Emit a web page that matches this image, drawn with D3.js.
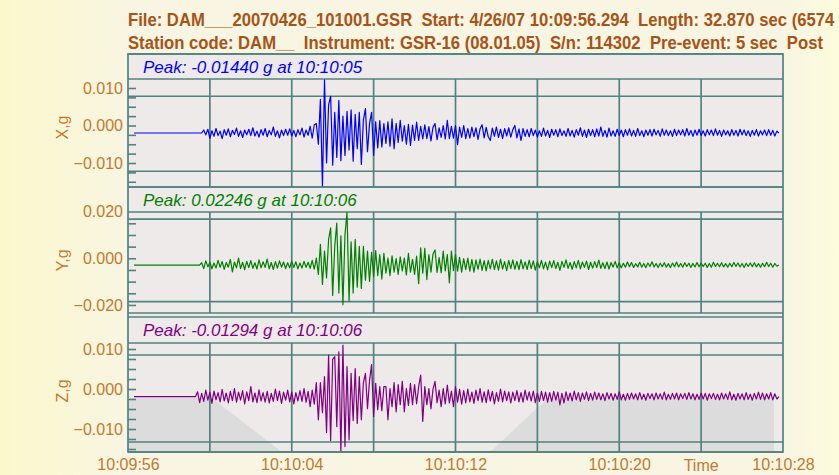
<!DOCTYPE html>
<html>
<head>
<meta charset="utf-8">
<script src="https://cdn.jsdelivr.net/npm/d3@7"></script>
<style>
  html, body { margin: 0; padding: 0; background: #fbf8da; overflow: hidden; }
  svg { display: block; font-family: "Liberation Sans", Arial, sans-serif; }
</style>
</head>
<body>
<div id="chart"></div>
<script>
// ---- Record data ----
var headerLines = [
  "File: DAM___20070426_101001.GSR  Start: 4/26/07 10:09:56.294  Length: 32.870 sec (6574",
  "Station code: DAM__  Instrument: GSR-16 (08.01.05)  S/n: 114302  Pre-event: 5 sec  Post"
];
var recordStart = 0.294;            // seconds after 10:09:56
var timeTicks = [0, 8, 16, 24, 32];  // labelled seconds
var timeGrid = [4, 8, 12, 16, 20, 24, 28];
var timeTitleAt = 28;
var channels = ["X,g", "Y,g", "Z,g"];
var peakLabels = ["Peak: -0.01440 g at 10:10:05", "Peak: 0.02246 g at 10:10:06", "Peak: -0.01294 g at 10:10:06"];
var baselines = [-0.0020, -0.0029, -0.0019];     // g, offset of the quiet trace
var yDomains = [[-0.0164, 0.0124], [-0.02345, 0.01985], [-0.01575, 0.0115]];
var yLabelTicks = [[-0.01, 0, 0.01], [-0.02, 0, 0.02], [-0.01, 0, 0.01]];
var yMinorStep = [0.0025, 0.005, 0.0025];
var yGrid = [[-0.0122, 0.0078], [-0.0186, 0.0168], [-0.01325, 0.0085]];
var onsets = [3.7, 3.6, 3.4];       // first sample of each array, s
var sampleStep = 0.1;               // s between values

// acceleration relative to baseline, milli-g
var xAccel = [
  0.8,-0.5,1.0,-1.4,0.6,-0.9,1.2,-0.7,0.5,-1.5, 0.9,-0.6,1.1,-1.0,0.7,-0.4,1.3,-0.9,0.6,-1.2,
  0.8,-0.5,1.0,-0.7,1.4,-0.8,0.5,-1.1,0.9,-0.6, 1.2,-1.0,0.7,-0.5,1.6,-0.9,0.6,-1.3,0.8,-0.7,
  1.0,-0.6,1.1,-0.8,0.7,-1.0,0.9,-0.5,1.3,-1.1, 0.8,-0.6,1.8,-1.4,2.2,
  2.5,-3.0,9.0,-14.4,14.2,-8.0,7.5,9.8,-8.6,5.5, -6.5,8.7,-7.4,4.5,-6.0,5.8,-4.5,6.2,-7.5,5.0,
  -4.2,5.5,-8.4,3.5,6.5,-5.0,2.5,5.5,-6.0,3.0, -4.0,3.3,-3.7,2.5,-2.8,3.0,-3.5,3.8,-4.2,2.6,
  -2.5,3.4,-2.2,2.0,-3.0,2.3,-3.3,2.1,-2.0,2.9, -2.0,1.8,-1.6,2.2,-1.5,1.7,-2.1,1.5,2.5,-1.8,
  1.4,-1.2,2.0,-1.6,3.4,-1.5,1.8,-1.4,2.0,-3.1, 1.6,-1.2,2.0,-1.5,
  1.2,-1.4,1.6,-1.0,1.4,-1.7,1.1,2.2,-1.3,1.5, -1.0,-2.0,1.3,-0.9,1.6,-1.2,1.0,-1.5,1.2,-0.8,
  1.4,-1.1,0.9,2.0,-1.3,1.1,-2.0,1.2,-0.9,
  0.9,-1.0,1.2,-0.7,0.8,-1.1,0.6,-0.9,1.3,-0.8, 0.7,-1.2,1.0,-0.6,0.9,-1.0,1.1,-0.7,0.6,-0.9,
  1.2,-0.8,0.7,-1.1,0.9,-0.6,1.4,-0.9,0.8,-1.2, 1.0,-0.7,0.9,-1.0,1.1,-0.8,1.6,-0.9,0.7,-1.1,
  1.3,-0.8,0.6,-0.9,1.0,-0.7,0.8,-1.0,0.9,-0.6, 1.1,-0.8,0.7,-0.9,1.2,-0.7,0.6,-1.0,0.8,-0.6,
  0.9,-0.8,1.0,-0.5,0.7,-0.9,1.1,-0.6,0.8,-0.7, 0.6,-0.9,1.0,-0.7,0.8,-0.5,0.9,-0.8,1.2,-0.6,
  0.7,-0.9,0.8,-0.6,1.0,-0.7,0.6,-0.8,0.9,-0.5, 0.8,-0.7,1.1,-0.6,0.7,-0.9,0.8,-0.5,0.6,-0.8,
  0.9,-0.6,0.7,-0.8,1.0,-0.5,0.8,-0.7,0.6,-0.9, 0.7,-0.6,0.9,-0.8,0.6,-0.5,0.8,-0.7,0.9,-0.6,
  0.7,-0.8,0.5,0
];
var yAccel = [
  1.0,-1.5,1.8,-0.8,1.2,-1.6,0.9,-1.3,2.0,-1.0, 1.5,-1.8,1.1,-0.9,2.4,-2.9,1.3,-1.2,3.0,-1.5,
  1.2,-2.0,1.6,-1.1,1.9,-1.4,1.0,-1.7,2.2,-1.2, 1.4,-1.0,2.6,-1.6,1.1,-1.9,1.5,-1.3,1.8,-0.9,
  1.3,-1.5,1.0,-1.2,1.7,-1.1,1.4,-1.6,0.9,-1.3, 1.6,-1.0,1.2,-1.4,2.0,-1.8,3.0,
  -4.0,8.9,-8.3,6.0,-5.5,11.0,16.0,-13.0,8.0,18.0, -12.0,12.5,-17.0,13.0,22.7,-15.4,10.0,-12.0,11.0,-9.5,
  8.0,-10.0,8.0,-6.5,6.0,-7.0,5.5,-5.0,6.2,-4.5, 4.5,-6.0,5.0,-3.5,3.0,-4.5,4.0,-3.0,2.8,-4.0,
  3.5,-2.5,3.0,-4.2,5.0,-3.0,2.5,-4.0,3.8,-8.0, 7.4,-3.5,7.2,-6.2,4.5,-3.0,4.7,6.5,-3.2,3.2,
  -3.3,6.0,-2.5,4.5,-7.6,6.0,-2.4,4.5,-2.6,3.3, -3.0,2.8,-2.0,3.0,-2.6,2.4,-3.0,2.2,-1.8,2.6,
  -2.3,1.9,-2.5,2.0,-1.6,2.5,-2.0,1.8,-2.2,2.6, -1.7,1.5,-2.4,2.0,-1.5,2.2,-1.8,1.6,-2.0,2.3,
  -1.6,1.4,-1.9,2.1,-1.5,1.8,-2.2,1.5,
  -1.2,2.0,-1.6,1.3,-2.1,1.7,-1.1,1.9,-1.5,1.2, -2.3,1.6,-1.0,2.2,-1.4,1.1,-1.8,1.5,-1.2,2.0,
  -1.6,1.3,-1.0,1.7,-1.9,1.2,-1.3,1.5,-1.1,2.1, -1.4,1.0,-1.5,1.3,-1.7,1.1,-0.9,1.6,-1.2,
  1.0,-1.2,0.8,-0.9,1.3,-0.7,1.1,-1.0,0.6,-0.8, 1.2,-0.9,0.7,-1.1,0.9,-0.6,1.4,-0.8,0.7,-1.0,
  0.8,-0.7,1.0,-0.9,0.6,-1.1,0.9,-0.7,1.3,-0.8, 0.7,-0.9,1.0,-0.6,0.8,-1.0,0.7,-0.8,1.1,-0.7,
  0.9,-0.6,0.8,-1.0,0.7,-0.9,1.2,-0.6,0.8,-0.7, 1.0,-0.8,0.6,-0.9,0.8,-0.7,1.1,-0.6,0.9,-0.8,
  0.7,-1.0,0.8,-0.6,0.9,-0.7,1.0,-0.8,0.6,-0.9, 0.8,-0.7,1.2,-0.6,0.8,-0.9,0.7,-0.5,0
];
var zAccel = [
  1.2,-1.5,0.8,-1.2,1.6,-0.9,1.1,-1.7,1.4,-0.8, 1.0,-1.3,1.8,-1.1,0.9,-1.6,1.3,-1.0,2.0,-1.4,
  1.1,-0.9,1.5,-1.8,1.2,-1.0,2.5,-1.3,0.9,-1.5, 1.7,-1.1,1.0,-1.4,1.3,-1.6,0.8,-1.2,1.9,-1.0,
  1.4,-1.7,1.1,-0.9,1.6,-1.3,1.2,-1.8,1.0,-1.1, 1.5,-1.2,2.0,-1.4,1.3,-2.5,1.6,-1.9,3.5,
  -5.8,3.5,-4.0,5.0,-9.0,10.4,-11.0,9.3,10.0,-7.5, 11.2,-13.8,12.9,-12.5,7.5,-10.8,5.8,-6.0,7.0,-6.7,
  5.0,-5.8,3.5,5.8,-3.0,4.0,8.0,-5.0,3.3,-3.3, 2.5,-3.5,2.5,2.5,-5.8,2.0,-2.5,3.5,-3.8,3.0,
  -2.0,3.8,-3.8,2.0,-2.2,3.3,-2.0,3.0,-1.8,2.5, 5.4,-6.2,2.5,-2.0,2.0,-3.0,1.8,3.8,-1.5,1.6,
  -2.5,2.0,-1.8,2.9,-1.6,1.4,-2.5,2.5,-1.4,1.8, -1.9,1.5,-1.6,
  1.9,-1.3,1.1,-1.7,1.6,-1.0,2.0,-1.4,1.2,-1.5, 1.7,-1.1,1.3,-1.8,1.0,-1.2,1.9,-1.3,1.4,-1.0,
  1.2,-1.6,1.1,-1.0,1.5,-1.3,1.0,-1.4,1.6,-0.9, 1.2,-1.1,1.4,-1.5,0.9,-1.2,1.3,-1.0,1.1,-1.4,
  1.0,-1.2,1.3,-0.9,1.1,-2.1,0.8,-1.6,1.2,-1.0, 0.9,-1.1,1.4,-0.8,1.0,-1.2,0.9,-0.7,1.2,-1.0,
  0.8,-0.9,1.1,-0.7,0.9,-0.8,0.7,-1.0,1.0,-0.6, 0.8,-0.9,0.7,-0.7,1.2,-0.8,0.6,-0.9,0.8,-0.7,
  0.9,-0.6,0.7,-0.8,1.0,-0.7,0.6,-0.9,0.8,-0.5, 0.7,-0.8,0.9,-0.6,0.7,-0.7,1.1,-0.8,0.6,-0.7,
  0.8,-0.6,0.9,-0.8,0.7,-0.5,0.8,-0.7,1.0,-0.6, 0.7,-0.8,0.6,-0.7,0.9,-0.6,0.8,-0.9,0.7,-0.5,
  0.8,-0.7,0.6,-0.8,0.9,-0.6,0.7,-0.7,1.2,-0.8, 0.6,-0.9,0.8,-0.6,0.7,-0.8,1.0,-0.7,0.6,-0.9,
  0.8,-0.6,1.1,-0.7,0.9,-0.8,0.7,-0.6,1.0,-0.8, 0.7,-0.6,0
];
var traces = [xAccel, yAccel, zAccel];
var traceColors = ["#0000ff", "#008000", "#800080"];

// ---- Layout ----
var svgWidth = 839, svgHeight = 475;
var left = 128, right = 783;
var panels = [
  {top: 54, plotTop: 79, bottom: 187},
  {top: 187, plotTop: 212, bottom: 313},
  {top: 317, plotTop: 343, bottom: 452}
];
var gridColor = "#51837e";
var labelColor = "#c27a2e";

var svg = d3.select("#chart").append("svg")
  .attr("width", svgWidth)
  .attr("height", svgHeight);

// page background
var defs = svg.append("defs");
var bg = defs.append("linearGradient").attr("id", "pageBg")
  .attr("x1", 0).attr("x2", 1).attr("y1", 0).attr("y2", 0);
bg.append("stop").attr("offset", "0%").attr("stop-color", "#fcf8cc");
bg.append("stop").attr("offset", "15%").attr("stop-color", "#f8f5e2");
bg.append("stop").attr("offset", "94%").attr("stop-color", "#f8f5e2");
bg.append("stop").attr("offset", "100%").attr("stop-color", "#fdfcdc");
svg.append("rect").attr("width", svgWidth).attr("height", svgHeight).attr("fill", "url(#pageBg)");

var xScale = d3.scaleLinear().domain([0, 32]).range([left, right]);
var clockFmt = d3.timeFormat("%H:%M:%S");
function clock(s) { return clockFmt(new Date(2007, 3, 26, 10, 9, 56 + s)); }

// header
var header = svg.append("g")
  .attr("fill", "#a65418")
  .attr("font-weight", "bold")
  .attr("font-size", "18px");
header.selectAll("text")
  .data(headerLines)
  .enter()
  .append("text")
  .attr("xml:space", "preserve")
  .attr("x", 0)
  .attr("y", (d, i) => 26 + i * 23)
  .text(d => d);
var firstLen = header.select("text").node().getComputedTextLength();
header.attr("transform", `translate(${left},0) scale(${707 / firstLen},1)`);

// plot box background
svg.append("rect")
  .attr("x", left).attr("y", panels[0].top)
  .attr("width", right - left).attr("height", panels[2].bottom - panels[0].top)
  .attr("fill", "#eeeaea");

// faint watermark patches in the lower panel
svg.append("path")
  .attr("d", `M${left},398 L212,398 L282,452 L${left},452 Z`)
  .attr("fill", "#dddcdc");
svg.append("path")
  .attr("d", "M548,398 L774,398 L774,452 L490,452 Z")
  .attr("fill", "#dddcdc");

panels.forEach(function(p, k) {
  var yScale = d3.scaleLinear().domain(yDomains[k]).range([p.bottom, p.plotTop]);
  var g = svg.append("g");

  // clip for trace
  defs.append("clipPath").attr("id", "clip" + k)
    .append("rect")
    .attr("x", left).attr("y", p.plotTop)
    .attr("width", right - left).attr("height", p.bottom - p.plotTop);

  // vertical grid lines
  g.selectAll("line.vgrid")
    .data(timeGrid)
    .enter()
    .append("line")
    .attr("x1", d => xScale(d)).attr("x2", d => xScale(d))
    .attr("y1", p.plotTop).attr("y2", p.bottom)
    .attr("stroke", gridColor).attr("stroke-width", 1.7);

  // horizontal grid lines
  g.selectAll("line.hgrid")
    .data(yGrid[k])
    .enter()
    .append("line")
    .attr("x1", left).attr("x2", right)
    .attr("y1", d => yScale(d)).attr("y2", d => yScale(d))
    .attr("stroke", gridColor).attr("stroke-width", 1.7);

  // panel borders
  g.selectAll("line.border")
    .data([p.top, p.plotTop, p.bottom])
    .enter()
    .append("line")
    .attr("x1", left).attr("x2", right)
    .attr("y1", d => d).attr("y2", d => d)
    .attr("stroke", gridColor).attr("stroke-width", 1.7);

  // inner ticks
  var minor = d3.range(Math.ceil(yDomains[k][0] / yMinorStep[k]), Math.floor(yDomains[k][1] / yMinorStep[k]) + 1)
    .map(i => i * yMinorStep[k]);
  var tickAxis = g.append("g")
    .attr("transform", `translate(${left},0)`)
    .call(d3.axisRight(yScale).tickValues(minor).tickSize(8).tickFormat(""));
  tickAxis.select(".domain").remove();
  tickAxis.selectAll("line").attr("stroke", gridColor).attr("stroke-width", 1.6);

  // tick labels
  var labelAxis = g.append("g")
    .attr("transform", `translate(${left},0)`)
    .call(d3.axisLeft(yScale).tickValues(yLabelTicks[k]).tickSize(0).tickPadding(5).tickFormat(d3.format(".3f")));
  labelAxis.select(".domain").remove();
  labelAxis.selectAll("text")
    .attr("fill", labelColor)
    .attr("font-size", "16px")
    .attr("font-family", "Liberation Sans, Arial, sans-serif");

  // channel title
  g.append("text")
    .attr("transform", "rotate(-90)")
    .attr("x", -yScale(0) - 2)
    .attr("y", 68)
    .attr("text-anchor", "middle")
    .attr("fill", labelColor)
    .attr("font-size", "16px")
    .text(channels[k]);

  // peak label
  g.append("text")
    .attr("x", 143)
    .attr("y", p.top + 19)
    .attr("fill", traceColors[k])
    .attr("font-style", "italic")
    .attr("font-size", "17px")
    .text(peakLabels[k]);

  // trace: flat until the first sample, then the record
  var pts = [{t: recordStart, v: 0}, {t: onsets[k] - sampleStep, v: 0}]
    .concat(traces[k].map((v, i) => ({t: onsets[k] + i * sampleStep, v: v})));
  var line = d3.line()
    .x(d => xScale(d.t))
    .y(d => yScale(baselines[k] + d.v / 1000));
  g.append("path")
    .datum(pts)
    .attr("clip-path", `url(#clip${k})`)
    .attr("fill", "none")
    .attr("stroke", traceColors[k])
    .attr("stroke-width", 1.2)
    .attr("stroke-linejoin", "round")
    .attr("d", line);
});

// outer frame
svg.append("rect")
  .attr("x", left).attr("y", panels[0].top)
  .attr("width", right - left).attr("height", panels[2].bottom - panels[0].top)
  .attr("fill", "none")
  .attr("stroke", gridColor).attr("stroke-width", 1.7);

// time axis
var timeAxis = svg.append("g")
  .attr("transform", `translate(0,${panels[2].bottom})`)
  .call(d3.axisBottom(xScale).tickValues(timeTicks).tickSize(0).tickPadding(7).tickFormat(clock));
timeAxis.select(".domain").remove();
timeAxis.selectAll("text")
  .attr("fill", labelColor)
  .attr("font-size", "16px")
  .attr("font-family", "Liberation Sans, Arial, sans-serif");

svg.append("text")
  .attr("x", xScale(timeTitleAt))
  .attr("y", 471)
  .attr("text-anchor", "middle")
  .attr("fill", labelColor)
  .attr("font-size", "16px")
  .text("Time");
</script>
</body>
</html>
